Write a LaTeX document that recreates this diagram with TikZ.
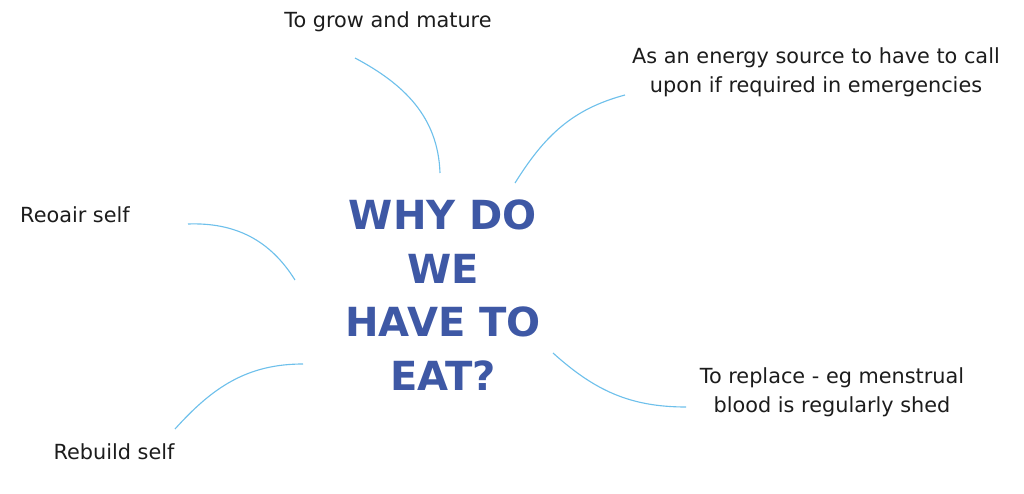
\documentclass[tikz,border=0pt]{standalone}
\usepackage{xcolor}
\usepackage{fontspec}
\setmainfont{DejaVu Sans}
\usepackage{tikz}
\usetikzlibrary{positioning}

\definecolor{titleblue}{RGB}{62,88,165}
\definecolor{linkblue}{RGB}{110,192,235}
\definecolor{labelgray}{RGB}{28,28,28}

\begin{document}
\begin{tikzpicture}[x=0.025cm,y=0.025cm]
        \useasboundingbox (0,0) rectangle (1024,493);
        \node[font=\fontsize{28.5}{38}\selectfont\bfseries,text=titleblue,align=center] (why) at (443,198) {WHY DO\\WE\\HAVE TO\\EAT?};
        \begin{scope}[every node/.style={text=labelgray,align=center,font=\fontsize{14.8}{20.5}\selectfont}]
          \node (grow) at (388,471) {To grow and mature};
          \node (energy) at (816,421) {As an energy source to have to call\\upon if required in emergencies};
          \node (repair) at (75,278) {Reoair self};
          \node (rebuild) at (114,41) {Rebuild self};
          \node (replace) at (832,101) {To replace - eg menstrual\\blood is regularly shed};
        \end{scope}
        % ends of the links
        \coordinate (g1) at (355,435);
        \coordinate (g2) at (440,320);
        \coordinate (e1) at (515,310);
        \coordinate (e2) at (625,398);
        \coordinate (r1) at (188,269);
        \coordinate (r2) at (295,213);
        \coordinate (b1) at (175,64);
        \coordinate (b2) at (303,129);
        \coordinate (p1) at (553,140);
        \coordinate (p2) at (686,86);
        \begin{scope}[every edge/.style={draw=linkblue,line width=0.8pt}]
          \path (g1) edge[out=-28,in=92] (g2);
          \path (e1) edge[out=58,in=195] (e2);
          \path (r1) edge[out=2,in=122] (r2);
          \path (b1) edge[out=48,in=180] (b2);
          \path (p1) edge[out=-42,in=180] (p2);
        \end{scope}
\end{tikzpicture}
\end{document}
